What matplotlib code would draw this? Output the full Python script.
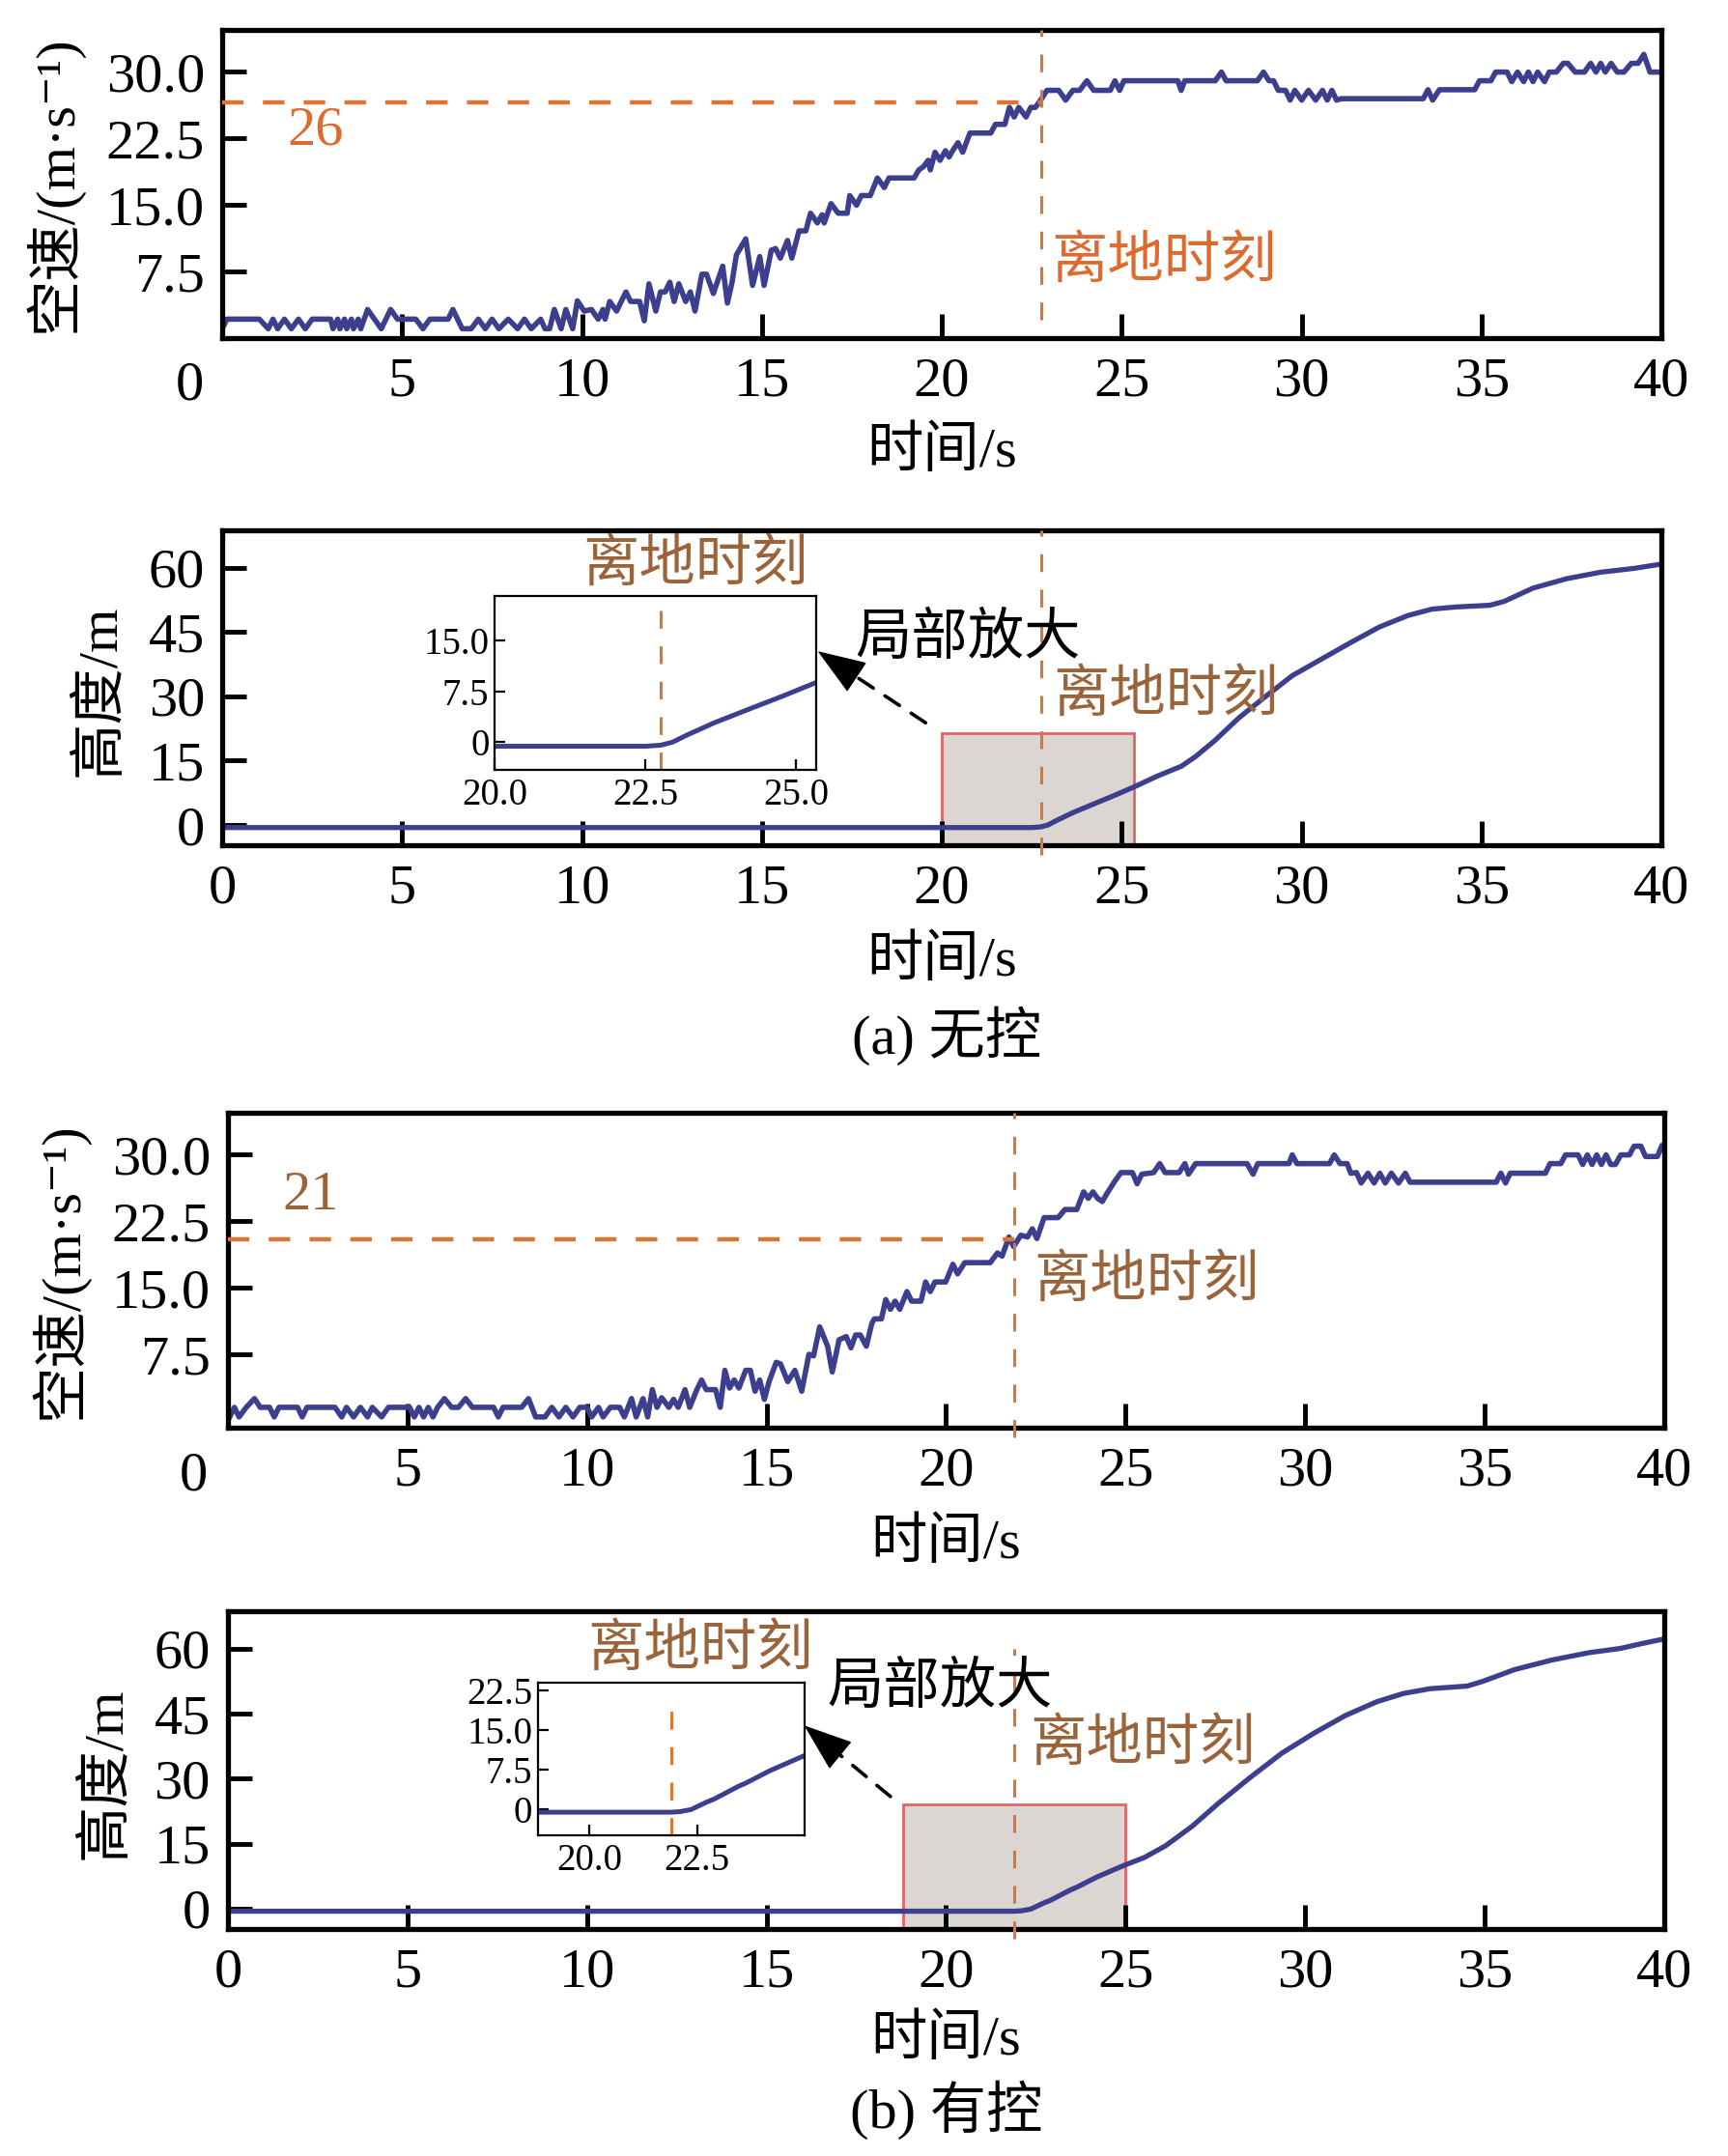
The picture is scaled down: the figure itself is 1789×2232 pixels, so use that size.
import numpy as np
import matplotlib
matplotlib.use("Agg")
import matplotlib.pyplot as plt
from matplotlib.patches import Rectangle

plt.rcParams['font.family'] = ['Liberation Serif', 'Noto Sans CJK SC', 'DejaVu Serif']

# ---- data ----
# (a) uncontrolled: airspeed (t [s], v [m/s])
speed_a = [
    (0.0, 1.05), (0.13, 2.13), (1.03, 2.13), (1.28, 1.05), (1.41, 2.13), (1.54, 1.05), (1.73, 2.13),
    (1.92, 1.05), (2.12, 2.13), (2.31, 1.05), (2.5, 2.13), (3.01, 2.13), (3.08, 1.05), (3.21, 2.13),
    (3.27, 1.05), (3.40, 2.13), (3.46, 1.05), (3.59, 2.13), (3.65, 1.05), (3.78, 2.13), (3.85, 1.05),
    (4.04, 3.22), (4.23, 2.13), (4.42, 1.05), (4.68, 3.22), (4.87, 2.13), (5.38, 2.13), (5.58, 1.05),
    (5.77, 2.13), (6.28, 2.13), (6.41, 3.22), (6.67, 1.05), (6.92, 1.05), (7.12, 2.13), (7.31, 1.05),
    (7.50, 2.13), (7.69, 1.05), (7.95, 2.13), (8.21, 1.05), (8.40, 2.13), (8.59, 1.05), (8.85, 2.13),
    (8.97, 1.05), (9.10, 1.05), (9.23, 3.22), (9.42, 1.05), (9.55, 3.22), (9.74, 1.05), (9.87, 4.19),
    (10.06, 3.04), (10.26, 3.22), (10.45, 2.13), (10.58, 3.22), (10.64, 2.13), (10.77, 4.12),
    (10.96, 3.04), (11.22, 5.20), (11.35, 4.12), (11.60, 4.12), (11.73, 1.95), (11.86, 6.11),
    (12.05, 3.04), (12.18, 5.20), (12.31, 5.20), (12.44, 6.29), (12.56, 4.12), (12.69, 6.11),
    (12.88, 4.12), (13.01, 5.20), (13.14, 3.04), (13.33, 7.19), (13.46, 7.19), (13.65, 5.02),
    (13.91, 8.10), (14.04, 3.94), (14.17, 6.29), (14.29, 9.36), (14.55, 11.17), (14.74, 5.93),
    (14.94, 9.18), (15.06, 5.93), (15.26, 9.90), (15.38, 10.08), (15.51, 9.00), (15.71, 10.99),
    (15.83, 9.00), (16.03, 12.07), (16.22, 12.07), (16.35, 14.06), (16.54, 12.97), (16.67, 13.88),
    (16.73, 12.97), (16.92, 15.14), (17.12, 14.06), (17.37, 14.06), (17.44, 16.05), (17.63, 14.96),
    (17.76, 16.05), (18.01, 16.05), (18.21, 18.03), (18.40, 16.95), (18.53, 18.03), (19.23, 18.03),
    (19.36, 18.94), (19.49, 19.30), (19.62, 20.02), (19.68, 18.94), (19.81, 20.93), (19.95, 20.02),
    (20.1, 21.1), (20.2, 20.4), (20.3, 21.1), (20.45, 22.0), (20.58, 20.93), (20.78, 23.09),
    (21.36, 23.09), (21.49, 24.07), (21.75, 24.07), (21.88, 25.98), (22.01, 24.9), (22.14, 25.98),
    (22.34, 24.9), (22.47, 25.98), (22.6, 25.98), (22.73, 26.7), (22.92, 27.9), (23.25, 27.9),
    (23.44, 26.8), (23.64, 27.9), (23.83, 27.9), (24.03, 28.98), (24.22, 27.9), (24.68, 27.9),
    (24.81, 28.98), (24.94, 27.9), (25.06, 28.98), (26.56, 28.98), (26.65, 27.9), (26.75, 28.98),
    (27.60, 28.98), (27.77, 29.96), (27.90, 28.98), (28.77, 28.98), (28.94, 29.96), (29.09, 28.98),
    (29.22, 28.98), (29.35, 27.9), (29.55, 27.9), (29.68, 26.8), (29.81, 27.9), (30.0, 26.8),
    (30.19, 27.9), (30.39, 26.8), (30.58, 27.9), (30.71, 26.8), (30.84, 27.9), (30.97, 26.8),
    (31.1, 26.96), (33.38, 26.96), (33.51, 27.97), (33.64, 26.8), (33.83, 27.97), (34.81, 27.97),
    (34.94, 28.98), (35.26, 28.98), (35.39, 29.96), (35.71, 29.96), (35.84, 28.88), (36.0, 29.96),
    (36.17, 28.88), (36.30, 29.96), (36.43, 28.88), (36.56, 29.96), (36.75, 28.88), (36.88, 29.96),
    (37.08, 29.96), (37.27, 30.94), (37.40, 30.94), (37.60, 29.96), (37.86, 29.96), (38.03, 30.94),
    (38.18, 29.96), (38.31, 30.94), (38.44, 29.96), (38.60, 30.94), (38.77, 29.96), (38.96, 29.96),
    (39.16, 30.94), (39.35, 30.94), (39.51, 31.95), (39.68, 29.96), (40.0, 29.96),
]
# (a) uncontrolled: height (t [s], h [m])
height_a = [
    (0.0, -0.6), (22.5, -0.6), (22.75, -0.45), (22.95, 0.0), (23.2, 1.1), (23.65, 2.9), (24.25, 5.0),
    (24.8, 6.9), (25.35, 8.9), (25.99, 11.4), (26.66, 13.7), (27.06, 16.0), (27.59, 19.7),
    (28.26, 25.0), (28.93, 29.5), (29.74, 34.8), (30.54, 38.6), (31.34, 42.4), (32.15, 46.1),
    (32.95, 48.8), (33.62, 50.3), (34.29, 50.8), (35.23, 51.2), (35.63, 52.1), (36.43, 55.2),
    (37.37, 57.4), (38.31, 58.9), (39.24, 59.8), (40.0, 60.8),
]
# (b) controlled: airspeed
speed_b = [
    (0.05, 0.51), (0.18, 1.59), (0.31, 0.51), (0.51, 1.59), (0.74, 2.57), (0.90, 1.59), (1.16, 1.59),
    (1.29, 0.51), (1.42, 1.59), (1.94, 1.59), (2.07, 0.51), (2.20, 1.59), (2.98, 1.59), (3.17, 0.51),
    (3.30, 1.59), (3.50, 0.51), (3.69, 1.59), (3.89, 0.51), (4.02, 1.59), (4.28, 0.51), (4.47, 1.59),
    (5.06, 1.59), (5.19, 0.51), (5.32, 1.59), (5.45, 0.51), (5.58, 1.59), (5.71, 0.51), (5.84, 1.59),
    (6.03, 2.57), (6.23, 1.59), (6.42, 1.59), (6.62, 2.57), (6.81, 1.59), (7.40, 1.59), (7.53, 0.51),
    (7.66, 1.59), (8.18, 1.59), (8.37, 2.57), (8.57, 0.51), (8.83, 0.51), (9.02, 1.59), (9.22, 0.51),
    (9.41, 1.59), (9.61, 0.51), (9.80, 1.59), (10.0, 1.59), (10.13, 0.51), (10.32, 1.59),
    (10.45, 0.51), (10.65, 1.59), (10.91, 1.59), (11.04, 0.51), (11.24, 2.57), (11.37, 0.51),
    (11.56, 2.57), (11.69, 0.51), (11.82, 3.58), (11.95, 1.59), (12.08, 2.67), (12.28, 1.59),
    (12.41, 2.49), (12.54, 1.59), (12.73, 3.58), (12.86, 1.59), (13.06, 3.58), (13.19, 4.66),
    (13.32, 3.58), (13.58, 3.58), (13.71, 1.59), (13.84, 5.75), (13.97, 3.76), (14.10, 4.66),
    (14.23, 3.76), (14.42, 5.75), (14.55, 5.75), (14.68, 3.40), (14.81, 4.66), (14.94, 2.49),
    (15.07, 4.48), (15.27, 6.65), (15.39, 6.47), (15.59, 4.48), (15.79, 5.75), (15.98, 3.40),
    (16.18, 7.55), (16.31, 7.37), (16.48, 10.63), (16.70, 8.46), (16.83, 5.57), (17.02, 9.18),
    (17.22, 9.54), (17.35, 8.28), (17.48, 9.72), (17.61, 9.72), (17.78, 8.46), (17.93, 10.99),
    (18.0, 11.53), (18.20, 11.53), (18.32, 13.70), (18.45, 12.61), (18.58, 13.52), (18.71, 12.61),
    (18.91, 14.60), (19.04, 13.52), (19.30, 13.52), (19.43, 15.68), (19.56, 14.60), (19.69, 15.68),
    (19.99, 15.68), (20.08, 16.59), (20.19, 17.67), (20.32, 16.59), (20.52, 17.85), (21.23, 17.85),
    (21.43, 18.94), (21.56, 18.58), (21.75, 20.74), (21.88, 19.66), (22.08, 20.93), (22.27, 20.74),
    (22.40, 21.65), (22.53, 20.56), (22.73, 22.91), (23.12, 22.91), (23.31, 23.82), (23.64, 23.82),
    (23.83, 25.80), (23.96, 25.08), (24.09, 25.80), (24.22, 25.08), (24.35, 24.72), (24.48, 25.62),
    (24.68, 26.89), (24.87, 27.97), (25.19, 27.97), (25.32, 26.71), (25.45, 27.79), (25.78, 27.97),
    (25.95, 28.98), (26.10, 27.97), (26.49, 27.97), (26.65, 28.98), (26.75, 27.79), (26.95, 28.98),
    (28.38, 28.98), (28.55, 27.79), (28.68, 28.98), (29.55, 28.98), (29.64, 29.96), (29.77, 28.98),
    (30.68, 28.98), (30.81, 29.96), (30.97, 28.98), (31.17, 28.98), (31.27, 27.9), (31.43, 27.97),
    (31.56, 26.8), (31.75, 27.9), (31.92, 26.8), (32.08, 27.9), (32.23, 26.8), (32.40, 27.9),
    (32.60, 26.8), (32.79, 27.9), (32.92, 26.89), (35.32, 26.89), (35.45, 27.9), (35.58, 26.8),
    (35.71, 27.9), (36.69, 27.9), (36.82, 28.98), (37.12, 28.98), (37.25, 29.96), (37.60, 29.96),
    (37.73, 28.88), (37.86, 29.96), (37.99, 28.88), (38.12, 29.96), (38.25, 28.88), (38.38, 29.96),
    (38.51, 28.88), (38.64, 28.88), (38.79, 29.96), (39.03, 29.96), (39.16, 30.94), (39.35, 30.94),
    (39.48, 29.78), (39.81, 29.78), (39.94, 31.04), (40.0, 30.5),
]
# (b) controlled: height
height_b = [
    (0.0, -0.6), (21.9, -0.6), (22.1, -0.5), (22.36, -0.1), (22.72, 1.3), (22.9, 1.9), (23.46, 4.3),
    (23.63, 4.9), (24.2, 7.3), (24.93, 9.9), (25.52, 11.8), (26.11, 14.5), (26.85, 19.0),
    (27.58, 24.3), (28.47, 30.3), (29.35, 35.9), (30.24, 40.5), (31.12, 44.6), (32.0, 47.8),
    (32.74, 49.7), (33.48, 50.8), (34.51, 51.4), (34.95, 52.5), (35.83, 55.2), (36.86, 57.4),
    (37.89, 59.1), (38.78, 60.1), (39.37, 61.2), (40.0, 62.3),
]
liftoff_t = {'a': 22.75, 'b': 21.9}
liftoff_v = {'a': 26.5, 'b': 20.5}
liftoff_v_label = {'a': '26', 'b': '21'}
zoom_box = {'a': (20.0, 25.35, 21.4), 'b': (18.8, 25.0, 24.1)}

x_ticks = [0, 5, 10, 15, 20, 25, 30, 35, 40]
speed_ticks = [7.5, 15.0, 22.5, 30.0]
speed_tick_labels = ['7.5', '15.0', '22.5', '30.0']
height_ticks = [0, 15, 30, 45, 60]

BLUE = '#3c3e8e'
DASH = '#dc7433'
ORANGE_TXT = '#dd6b2f'
BROWN_TXT = '#9b6339'
FS = 42

fig = plt.figure(figsize=(17.89, 22.32), dpi=100)


def style(ax):
    for s in ax.spines.values():
        s.set_linewidth(3.8)
    ax.tick_params(direction='in', length=18, width=3.5, labelsize=FS, top=False, right=False)
    ax.tick_params(axis='x', pad=14)
    ax.tick_params(axis='y', pad=13)
    ax.set_xlim(0, 40)


def style_inset(ax):
    for s in ax.spines.values():
        s.set_linewidth(1.6)
    ax.tick_params(direction='in', length=8, width=1.6, labelsize=28, top=False, right=False)
    ax.tick_params(axis='x', pad=6)
    ax.tick_params(axis='y', pad=4)


def speed_panel(rect, key, txt_color, text_pos, val_pos, zero_pos, vline_lim, ylim):
    ax = fig.add_axes(rect)
    t, v = np.array(speed_a if key == 'a' else speed_b).T
    ax.plot(t, v, color=BLUE, lw=4.0, zorder=2)
    ax.hlines(liftoff_v[key], 0, liftoff_t[key], colors=DASH, lw=3.2,
              linestyles=(0, (5, 4.5)), zorder=3)
    ax.axvline(liftoff_t[key], ymin=vline_lim[0], ymax=vline_lim[1], color=DASH, lw=2.2,
               linestyle=(0, (6, 6)), zorder=3, clip_on=False)
    style(ax)
    ax.set_ylim(*ylim)
    ax.set_yticks(speed_ticks, speed_tick_labels)
    ax.set_xticks(x_ticks, [''] + [str(x) for x in x_ticks[1:]])
    ax.text(zero_pos, -0.155, '0', transform=ax.get_xaxis_transform(), ha='center', va='center',
            fontsize=FS)
    ax.text(*val_pos, liftoff_v_label[key], color=txt_color, fontsize=FS, ha='center', va='center')
    ax.text(*text_pos, '离地时刻', color=txt_color, fontsize=FS, ha='left', va='center')
    ax.set_xlabel('时间/s', fontsize=FS)
    ax.xaxis.set_label_coords(0.5, -0.37)
    ax.xaxis.label.set_va('center')
    ax.set_ylabel('空速/(m·s⁻¹)', fontsize=FS)
    ax.yaxis.set_label_coords(-0.118, 0.5)
    ax.yaxis.label.set_va('center')
    return ax


def height_panel(rect, key, text_pos, note_pos, arrow_tip, arrow_tail, vline_lim, inset_rect,
                 inset_title, inset_xlim, inset_ylim, inset_xticks, inset_yticks, inset_vmax, xlab_y):
    ax = fig.add_axes(rect)
    t, h = np.array(height_a if key == 'a' else height_b).T
    ylo = -4.7
    x0, x1, ytop = zoom_box[key]
    ax.add_patch(Rectangle((x0, ylo), x1 - x0, ytop - ylo, facecolor='#dbd6d2',
                           edgecolor='#e06666', lw=2.0, zorder=1))
    ax.plot(t, h, color=BLUE, lw=3.8, zorder=2)
    ax.axvline(liftoff_t[key], ymin=vline_lim[0], ymax=vline_lim[1], color=DASH, lw=2.2,
               linestyle=(0, (6, 6)), zorder=3, clip_on=False)
    style(ax)
    ax.set_ylim(ylo, 68.7)
    ax.set_yticks(height_ticks)
    ax.set_xticks(x_ticks)
    ax.text(*text_pos, '离地时刻', color=BROWN_TXT, fontsize=FS, ha='left', va='center')
    ax.text(*note_pos, '局部放大', color='black', fontsize=FS, ha='left', va='center')
    ax.text(*inset_title, '离地时刻', color=BROWN_TXT, fontsize=FS, ha='center', va='center')
    # dashed shaft, then a solid head at the inset corner
    ax.annotate('', xy=arrow_tip, xytext=arrow_tail,
                arrowprops=dict(arrowstyle='-', color='black', lw=2.6, linestyle=(0, (5, 4)),
                                shrinkA=0, shrinkB=14), zorder=4)
    head_from = (arrow_tip[0] + 0.35 * (arrow_tail[0] - arrow_tip[0]),
                 arrow_tip[1] + 0.35 * (arrow_tail[1] - arrow_tip[1]))
    ax.annotate('', xy=arrow_tip, xytext=head_from,
                arrowprops=dict(arrowstyle='-|>,head_length=1.5,head_width=0.55', color='black',
                                lw=1.0, mutation_scale=22, shrinkA=0, shrinkB=0), zorder=4)
    ax.set_xlabel('时间/s', fontsize=FS)
    ax.xaxis.set_label_coords(0.5, xlab_y)
    ax.xaxis.label.set_va('center')
    ax.set_ylabel('高度/m', fontsize=FS)
    ax.yaxis.set_label_coords(-0.085, 0.49)
    ax.yaxis.label.set_va('center')

    ins = fig.add_axes(inset_rect)
    ins.plot(t, h, color=BLUE, lw=3.6)
    ins.axvline(liftoff_t[key], ymin=0, ymax=inset_vmax, color=DASH, lw=2.2,
                linestyle=(0, (6, 6)))
    style_inset(ins)
    ins.set_xlim(*inset_xlim)
    ins.set_ylim(*inset_ylim)
    ins.set_xticks(inset_xticks, ['%.1f' % x for x in inset_xticks])
    ins.set_yticks(inset_yticks, ['0'] + ['%.1f' % y for y in inset_yticks[1:]])
    return ax


# (a) uncontrolled
speed_panel([0.1286, 0.8432, 0.8329, 0.1429], 'a', ORANGE_TXT, (23.05, 8.5), (2.6, 23.3),
            -0.9, (0.06, 1.0), (0, 34.7))
height_panel([0.1286, 0.6080, 0.8329, 0.1461], 'a', (23.1, 30.0), (17.6, 43.3),
             (16.55, 40.5), (19.55, 23.8), (-0.03, 1.0), [0.2862, 0.6429, 0.1861, 0.0806],
             (13.15, 60.4), (20.0, 25.33), (-4.1, 21.6), [20.0, 22.5, 25.0], [0, 7.5, 15.0],
             1.0, -0.37)
fig.text(980 / 1789, 1 - 1072 / 2232, '(a) 无控', ha='center', va='center', fontsize=FS)

# (b) controlled
speed_panel([0.1319, 0.3378, 0.8312, 0.1461], 'b', BROWN_TXT, (22.43, 15.8), (2.31, 25.4),
            -0.97, (-0.03, 1.0), (-0.7, 34.7))
height_panel([0.1319, 0.1053, 0.8312, 0.1474], 'b', (22.34, 37.9), (16.7, 50.8),
             (16.05, 42.3), (18.45, 25.9), (-0.03, 0.88), [0.3112, 0.1487, 0.1544, 0.0709],
             (13.15, 59.6), (18.8, 25.0), (-5.0, 24.0), [20.0, 22.5], [0, 7.5, 15.0, 22.5],
             0.92, -0.35)
fig.text(980 / 1789, 1 - 2184 / 2232, '(b) 有控', ha='center', va='center', fontsize=FS)

fig.savefig('out.png', dpi=100)
